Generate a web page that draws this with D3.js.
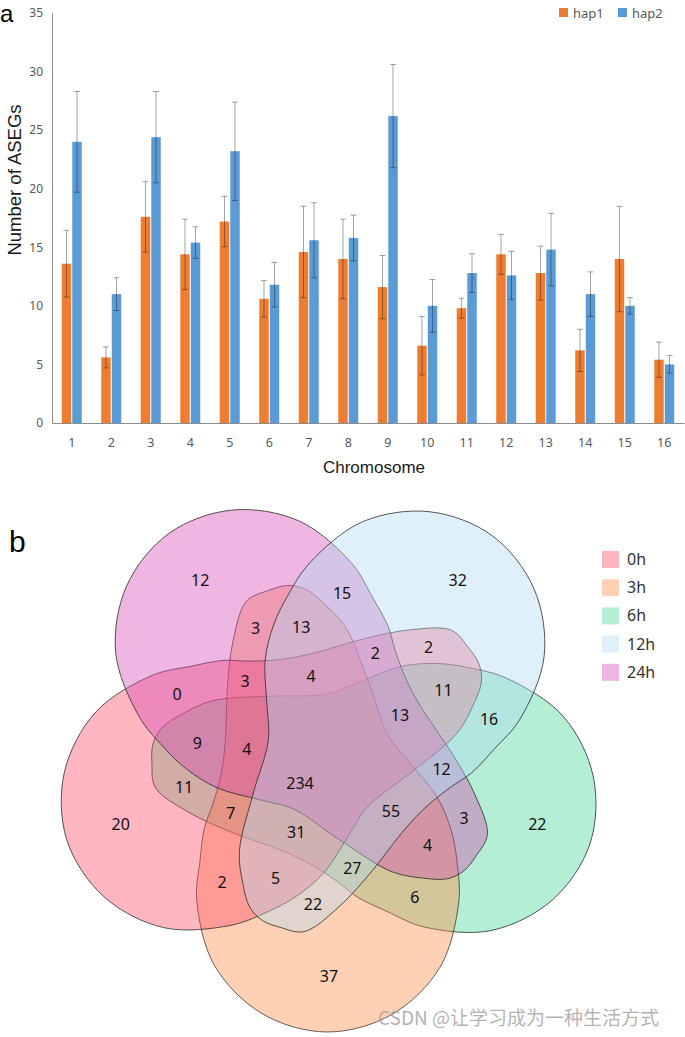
<!DOCTYPE html>
<html>
<meta charset="utf-8">
<style>
  body { margin: 0; background: #fff; }
  svg { display: block; }
</style>
<body>
  <svg width="685" height="1037"></svg>
</body>
<script src="https://d3js.org/d3.v7.min.js"></script>
<script>
  // ---------- panel a : data ----------
  var chromosomes = ["1","2","3","4","5","6","7","8","9","10","11","12","13","14","15","16"];
  var series = ["hap1", "hap2"];
  var hap1 = [13.6, 5.6, 17.6, 14.4, 17.2, 10.6, 14.6, 14.0, 11.6, 6.6, 9.8, 14.4, 12.8, 6.2, 14.0, 5.4];
  var hap2 = [24.0, 11.0, 24.4, 15.4, 23.2, 11.8, 15.6, 15.8, 26.2, 10.0, 12.8, 12.6, 14.8, 11.0, 10.0, 5.0];
  var hap1Err = [2.85, 0.9, 3.0, 3.0, 2.15, 1.55, 3.9, 3.4, 2.7, 2.5, 0.85, 1.7, 2.3, 1.8, 4.5, 1.5];
  var hap2Err = [4.3, 1.4, 3.9, 1.35, 4.2, 1.9, 3.2, 1.95, 4.4, 2.25, 1.65, 2.05, 3.1, 1.9, 0.7, 0.75];
  var yTicks = [0, 5, 10, 15, 20, 25, 30, 35];

  // ---------- panel b : data ----------
  var vennSets = ["0h", "3h", "6h", "12h", "24h"];
  var vennRegions = [
    "0h", "3h", "6h", "12h", "24h",
    "0h&3h", "0h&24h", "12h&24h", "6h&12h", "3h&6h",
    "3h&24h", "0h&12h", "6h&24h", "3h&12h", "0h&6h",
    "0h&3h&24h", "0h&12h&24h", "6h&12h&24h", "3h&6h&12h", "0h&3h&6h",
    "0h&3h&12h", "0h&6h&24h", "3h&12h&24h", "0h&6h&12h", "3h&6h&24h",
    "0h&3h&12h&24h", "0h&6h&12h&24h", "3h&6h&12h&24h", "0h&3h&6h&12h", "0h&3h&6h&24h",
    "0h&3h&6h&12h&24h"
  ];
  var vennCounts = [
    20, 37, 22, 32, 12,
    2, 0, 15, 16, 6,
    3, 2, 3, 22, 11,
    3, 2, 12, 27, 7,
    5, 9, 13, 11, 4,
    4, 13, 55, 31, 4,
    234
  ];

  var barColors = { hap1: "#ED7D31", hap2: "#5B9BD5" };
  var vennColors = { "0h": "#FF4864", "3h": "#FF8943", "6h": "#43D493", "12h": "#B1D9F2", "24h": "#D448B1" };

  var svg = d3.select("svg");

  // ================= panel a =================
  var x = d3.scaleBand().domain(chromosomes).range([52, 684]);
  var x1 = d3.scaleBand().domain(series).range([-10, 10]).paddingInner(0.1);
  var y = d3.scaleLinear().domain([0, 35]).range([423, 13]);

  svg.append("text").attr("x", 0).attr("y", 22)
    .style("font", "24px 'Liberation Sans', Arial, sans-serif").text("a");

  var yAxis = svg.append("g").attr("transform", "translate(52,0)")
    .call(d3.axisLeft(y).tickValues(yTicks).tickSize(0).tickPadding(9));
  yAxis.select(".domain").attr("stroke", "#8c8c8c");
  yAxis.selectAll("text").attr("fill", "#595959")
    .style("font", "12px 'Noto Sans', sans-serif");

  var xAxis = svg.append("g").attr("transform", "translate(0,423)")
    .call(d3.axisBottom(x).tickSize(0).tickPadding(15));
  xAxis.select(".domain").attr("stroke", "#8c8c8c");
  xAxis.selectAll("text").attr("fill", "#595959")
    .style("font", "12.5px 'Noto Sans', sans-serif");

  var rows = chromosomes.map(function(c, i) {
    return [
      { chr: c, key: "hap1", v: hap1[i], e: hap1Err[i] },
      { chr: c, key: "hap2", v: hap2[i], e: hap2Err[i] }
    ];
  });
  var flat = d3.merge(rows);

  function barX(d) { return x(d.chr) + x.bandwidth() / 2 + x1(d.key); }
  function barMid(d) { return barX(d) + x1.bandwidth() / 2; }

  svg.append("g").selectAll("rect").data(flat).join("rect")
    .attr("x", barX)
    .attr("width", x1.bandwidth())
    .attr("y", function(d) { return y(d.v); })
    .attr("height", function(d) { return y(0) - y(d.v); })
    .attr("fill", function(d) { return barColors[d.key]; });

  var err = svg.append("g").attr("stroke", "#000").attr("stroke-opacity", 0.36).attr("stroke-width", 1)
    .selectAll("g").data(flat).join("g");
  err.append("line")
    .attr("x1", barMid).attr("x2", barMid)
    .attr("y1", function(d) { return y(d.v + d.e); })
    .attr("y2", function(d) { return y(d.v - d.e); });
  err.append("line")
    .attr("x1", function(d) { return barMid(d) - 3; }).attr("x2", function(d) { return barMid(d) + 3; })
    .attr("y1", function(d) { return y(d.v + d.e); }).attr("y2", function(d) { return y(d.v + d.e); });
  err.append("line")
    .attr("x1", function(d) { return barMid(d) - 3; }).attr("x2", function(d) { return barMid(d) + 3; })
    .attr("y1", function(d) { return y(d.v - d.e); }).attr("y2", function(d) { return y(d.v - d.e); });

  svg.append("text")
    .attr("transform", "translate(21,180) rotate(-90)")
    .attr("text-anchor", "middle")
    .style("font", "18.5px 'Liberation Sans', Arial, sans-serif")
    .attr("fill", "#1a1a1a")
    .text("Number of ASEGs");

  svg.append("text")
    .attr("x", 374).attr("y", 473).attr("text-anchor", "middle")
    .style("font", "17px 'Liberation Sans', Arial, sans-serif")
    .attr("fill", "#1a1a1a")
    .text("Chromosome");

  // legend a
  var legA = svg.append("g").selectAll("g").data(series).join("g")
    .attr("transform", function(d, i) { return "translate(" + (559 + i * 59) + ",8)"; });
  legA.append("rect").attr("width", 9).attr("height", 9).attr("fill", function(d) { return barColors[d]; });
  legA.append("text").attr("x", 14).attr("y", 9.5)
    .style("font", "13px 'Noto Sans', sans-serif").attr("fill", "#595959")
    .text(function(d) { return d; });

  // ================= panel b =================
  svg.append("text").attr("x", 9).attr("y", 552)
    .style("font", "30px 'Liberation Sans', Arial, sans-serif").text("b");

  // layout of the symmetric five-petal diagram
  var cx = 329, cy = 757, lobeDist = 144, baseAngle = 90.5;
  var ringOrder = ["3h", "0h", "24h", "12h", "6h"];
  var drawOrder = ["6h", "3h", "0h", "24h", "12h"];
  // one petal, lobe centred at origin, finger pointing up
  var petal = [
    [-62, -310], [-44, -315], [-26, -312], [-6, -297], [16, -273], [39, -219], [59, -166],
    [80, -140], [109, -104], [123, -71], [129, -40], [131, 0], [113, 65], [65, 113], [0, 131],
    [-65, 113], [-113, 65], [-131, 0], [-128, -40], [-124, -72], [-116, -95], [-108, -125],
    [-104, -156], [-102, -216], [-97, -259], [-84, -299]
  ];
  // label spot of each region type, for the rotation that starts at ringOrder[0]
  var labelSpots = [
    { members: [0], at: [0, 219] },
    { members: [0, 1], at: [-107, 125] },
    { members: [0, 2], at: [-73.5, -128.5] },
    { members: [0, 1, 2], at: [-84, -76] },
    { members: [0, 1, 3], at: [-53.5, 121] },
    { members: [1, 2, 3, 4], at: [71, -42] },
    { members: [0, 1, 2, 3, 4], at: [-29, 26] }
  ];

  function rot(p, deg) {
    var a = deg * Math.PI / 180;
    return [p[0] * Math.cos(a) - p[1] * Math.sin(a), p[0] * Math.sin(a) + p[1] * Math.cos(a)];
  }
  function spotFor(region) {
    var idx = region.split("&").map(function(m) { return ringOrder.indexOf(m); });
    for (var s = 0; s < labelSpots.length; s++) {
      for (var k = 0; k < 5; k++) {
        var r = labelSpots[s].members.map(function(i) { return (i + k) % 5; });
        if (r.length === idx.length && r.every(function(i) { return idx.indexOf(i) >= 0; })) {
          var p = rot(labelSpots[s].at, 72 * k);
          return [cx + p[0], cy + p[1]];
        }
      }
    }
  }

  var petalLine = d3.line().curve(d3.curveCatmullRomClosed.alpha(0.5));
  var venn = svg.append("g");
  venn.selectAll("path").data(drawOrder).join("path")
    .attr("d", petalLine(petal))
    .attr("transform", function(d) {
      var a = baseAngle + 72 * ringOrder.indexOf(d);
      var r = a * Math.PI / 180;
      return "translate(" + (cx + lobeDist * Math.cos(r)) + "," + (cy + lobeDist * Math.sin(r)) + ") rotate(" + (a - 90) + ")";
    })
    .attr("fill", function(d) { return vennColors[d]; })
    .attr("fill-opacity", 0.4)
    .attr("stroke", "#2a2a2a")
    .attr("stroke-opacity", 0.8)
    .attr("stroke-width", 0.9);

  venn.selectAll("text").data(vennRegions).join("text")
    .attr("transform", function(d) { return "translate(" + spotFor(d) + ")"; })
    .attr("text-anchor", "middle").attr("dy", "0.36em")
    .style("font", "16px 'Noto Sans', sans-serif").attr("fill", "#111")
    .text(function(d, i) { return vennCounts[i]; });

  // legend b
  var legB = svg.append("g").selectAll("g").data(vennSets).join("g")
    .attr("transform", function(d, i) { return "translate(602," + (551 + i * 28.2) + ")"; });
  legB.append("rect").attr("width", 17).attr("height", 17)
    .attr("fill", function(d) { return vennColors[d]; }).attr("fill-opacity", 0.4);
  legB.append("text").attr("x", 25).attr("y", 14)
    .style("font", "16px 'Noto Sans', sans-serif").attr("fill", "#333")
    .text(function(d) { return d; });

  svg.append("text").attr("x", 378).attr("y", 1025)
    .style("font", "19px 'Noto Sans CJK SC', sans-serif")
    .attr("fill", "#9a9a9a").attr("fill-opacity", 0.75)
    .text("CSDN @让学习成为一种生活方式");
</script>
</html>
